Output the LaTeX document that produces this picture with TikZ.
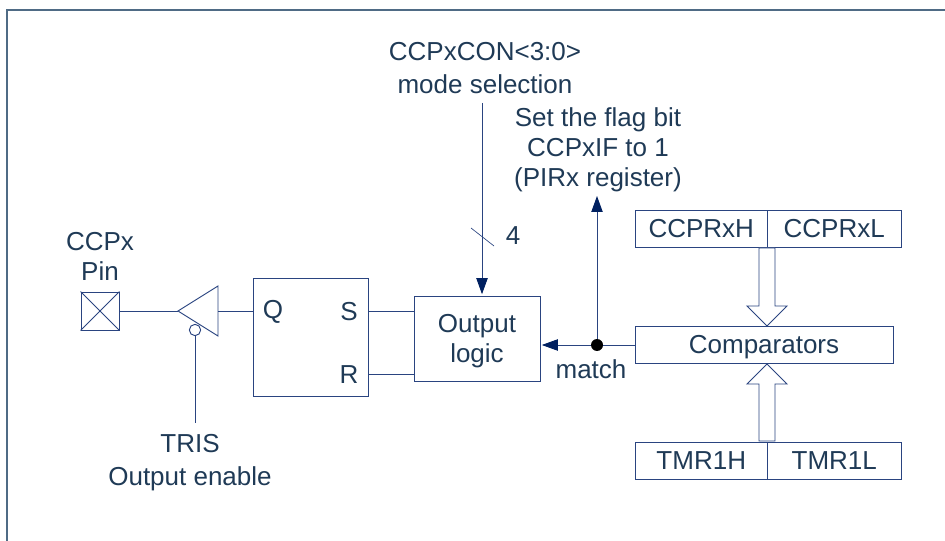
\documentclass[tikz,border=0pt]{standalone}
\usepackage{fontspec}
\setmainfont{Liberation Sans}
\usetikzlibrary{arrows.meta}
\definecolor{wirecol}{HTML}{2A4480}
\definecolor{headcol}{HTML}{002060}
\definecolor{textcol}{HTML}{1F3A56}
\definecolor{framecol}{HTML}{4F6B85}
\tikzset{
    block/.style 2 args={draw=wirecol,line width=0.7pt,inner sep=0pt,text=textcol,align=center,
        font=\fontsize{19.5}{23}\selectfont,
        minimum width=#1*0.75pt,minimum height=#2*0.75pt},
    lbl/.style={text=textcol,inner sep=0pt,align=center,font=\fontsize{19.5}{22.5}\selectfont},
    wlbl/.style={lbl,font=\fontsize{19.5}{24.75}\selectfont},
    wire/.style={draw=wirecol,line width=0.7pt},
    sig/.style={wire,-{Triangle[length=12pt,width=8.5pt,color=headcol]},shorten >=1pt},
    hollow/.style={wire,fill=white,line join=miter},
}
\begin{document}
\begin{tikzpicture}[x=0.75pt,y=-0.75pt]
    \useasboundingbox (0,0) rectangle (945,541);

    % Frame
    \draw[framecol,line width=1.2pt] (7,541) -- (7,10) -- (945,10);

    % Pin
    \node[block={38}{38}] (pin) at (100,311) {};
    \draw[wire] (pin.north west) -- (pin.south east);
    \draw[wire] (pin.north east) -- (pin.south west);
    \node[lbl] (pinlbl) at (100,256) {CCPx\\Pin};

    % Output buffer
    \coordinate (buftip) at (178,311);
    \coordinate (buftop) at (218,286);
    \coordinate (bufbot) at (218,336);
    \coordinate (bufout) at (218,311);
    \draw[wire] (buftip) -- (buftop) -- (bufbot) -- cycle;
    \node[circle,draw=wirecol,fill=white,line width=0.7pt,inner sep=0pt,minimum size=8.5pt] (bubble) at (195,330) {};
    \coordinate (trisend) at (195,423);
    \node[wlbl] (tris) at (190,463) {TRIS\\Output enable};

    % Flip-flop
    \node[block={115}{118}] (ff) at (310.5,337) {};
    \node[lbl] (q) at (273,312) {Q};
    \node[lbl] (s) at (349,312) {S};
    \node[lbl] (r) at (349,375) {R};
    \coordinate (ffs) at (368,311);
    \coordinate (ffr) at (368,374);

    % Output logic
    \node[block={126}{85}] (logic) at (477,338.5) {};
    \node[lbl] (logiclbl) at (477,341) {Output\\logic};
    \coordinate (modeend) at (482,103);
    \node[wlbl] (mode) at (485,68.5) {CCPxCON<3:0>\\mode selection};
    \coordinate (slasha) at (471,228);
    \coordinate (slashb) at (494,246);
    \node[lbl] (four) at (513,236) {4};

    % Registers and comparators
    \node[block={132.5}{37}] (ccprh) at (701.25,228.5) {CCPRxH};
    \node[block={133.5}{37}] (ccprl) at (834.25,228.5) {CCPRxL};
    \node[block={258}{37},text depth=0pt] (comp) at (764,344.5) {Comparators};
    \node[block={132.5}{37}] (tmrh) at (701.25,460.5) {TMR1H};
    \node[block={133.5}{37}] (tmrl) at (834.25,460.5) {TMR1L};

    % Match net
    \node[circle,fill=black,inner sep=0pt,minimum size=9pt] (dot) at (597,345) {};
    \node[lbl] (match) at (591,369) {match};
    \node[lbl] (flag) at (598,150) {Set the flag bit\\CCPxIF to 1\\(PIRx register)};
    \coordinate (flagend) at (597,196);

    % Connectors
    \draw[wire] (pin.east) -- (buftip);
    \draw[wire] (bufout) -- (ff.west |- bufout);
    \draw[wire] (bubble.south) -- (trisend);
    \draw[wire] (ffs) -- (ffs -| logic.west);
    \draw[wire] (ffr) -- (ffr -| logic.west);
    \draw[sig] (modeend) -- (modeend |- logic.north);
    \draw[wire,line width=0.5pt] (slasha) -- (slashb);
    \draw[wire] (comp.west |- dot) -- (dot);
    \draw[sig] (dot) -- (logic.east |- dot);
    \draw[wire,-{Triangle[length=12pt,width=8.5pt,color=headcol]}] (dot) -- (flagend);

    % Hollow bus arrows
    \draw[hollow] (759,248) -- (775,248) -- (775,306) -- (787,306) -- (767,326)
        -- (747,306) -- (759,306) -- cycle;
    \draw[hollow] (759,441) -- (775,441) -- (775,384) -- (787,384) -- (767,364)
        -- (747,384) -- (759,384) -- cycle;
\end{tikzpicture}
\end{document}
